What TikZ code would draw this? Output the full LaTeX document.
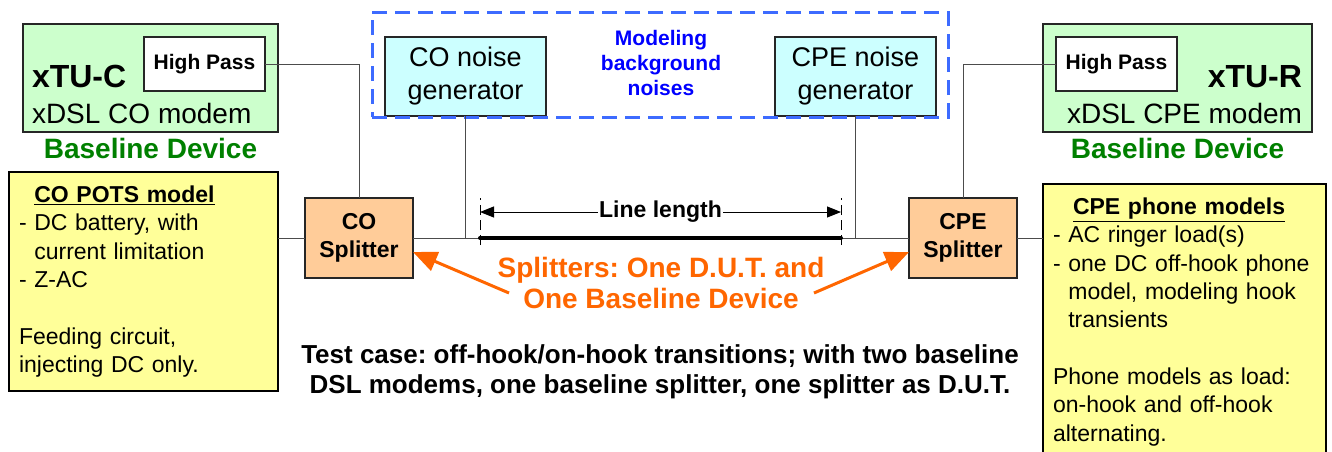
\documentclass[tikz,border=0pt]{standalone}
\usepackage{fontspec}
\setmainfont{Liberation Sans}
\usetikzlibrary{positioning,arrows.meta}
\definecolor{modemgreen}{HTML}{CCFFCC}
\definecolor{potsyellow}{HTML}{FFFF99}
\definecolor{splitorange}{HTML}{FFCC99}
\definecolor{noisecyan}{HTML}{CCFFFF}
\definecolor{dashblue}{HTML}{3D6BFF}
\definecolor{textgreen}{HTML}{008000}
\definecolor{textblue}{HTML}{0000FF}
\definecolor{dutorange}{HTML}{FF6600}
\newcommand{\fs}[2]{\fontsize{#1}{#2}\selectfont}
\newcommand{\hangind}{\hphantom{-~}}
\frenchspacing

\begin{document}
\begin{tikzpicture}[x=1pt, y=-1pt, thick,
    box/.style={draw=black!85, line width=1.5pt, inner sep=0pt, outer sep=0pt, anchor=north west},
    boxsize/.style 2 args={minimum width=#1pt, minimum height=#2pt},
    notes/.style={box, draw=black, line width=2pt, fill=potsyellow, align=left,
        inner xsep=10pt, inner ysep=14pt, font=\fs{23}{28.3}},
    label/.style={inner sep=0pt, outer sep=0pt},
    wire/.style={draw=black!70, line width=1pt},
    pointer/.style={draw=dutorange, line width=3pt, -{Triangle[length=24pt,width=20pt]}}]
    \useasboundingbox (0,0) rectangle (1332,451);

    \node[box, fill=modemgreen, boxsize={255}{108}] (tuC) at (23,24) {};
    \node[box, fill=white, boxsize={121}{54}, font=\fs{21}{25}\bfseries] (hpC) at (144,37) {High Pass};
    \node[label, anchor=base west, font=\fs{32}{38}\bfseries] (tuCname) at (32,87) {xTU-C};
    \node[label, anchor=base west, font=\fs{28}{33}] (tuCtype) at (32,123) {xDSL CO modem};
    \node[label, below=6pt of tuC, text=textgreen, font=\fs{28}{33}\bfseries] (baseC) {Baseline Device};

    \node[box, fill=modemgreen, boxsize={269}{108}] (tuR) at (1043,24) {};
    \node[box, fill=white, boxsize={121}{54}, font=\fs{21}{25}\bfseries] (hpR) at (1056,37) {High Pass};
    \node[label, anchor=base east, font=\fs{32}{38}\bfseries] (tuRname) at (1302,87) {xTU-R};
    \node[label, anchor=base east, font=\fs{28}{33}] (tuRtype) at (1302,123) {xDSL CPE modem};
    \node[label, below=6pt of tuR, text=textgreen, font=\fs{28}{33}\bfseries] (baseR) {Baseline Device};

    \node[box, fill=noisecyan, boxsize={161}{79}, align=center, font=\fs{27}{33}] (noiseC) at (385,37) {CO noise\\generator};
    \node[box, fill=noisecyan, boxsize={161}{79}, align=center, font=\fs{27}{33}] (noiseR) at (775,37) {CPE noise\\generator};
    \node[box, draw=dashblue, line width=3pt, dash pattern=on 15pt off 8pt, boxsize={576}{105}] (noisegrp) at (372,12) {};
    \node[label, anchor=north, align=center, text=textblue, font=\fs{21}{25}\bfseries] (noiselbl) at (661,30) {Modeling\\background\\noises};

    \node[box, fill=splitorange, boxsize={108}{80}, align=center, font=\fs{23}{28}\bfseries] (coS) at (305,198) {CO\\Splitter};
    \node[box, fill=splitorange, boxsize={108}{80}, align=center, font=\fs{23}{28}\bfseries] (cpeS) at (909,198) {CPE\\Splitter};

    \node[notes, text width=249pt] (potsC) at (9,172) {\hangind\textbf{\underline{CO POTS model}}\\
        - DC battery, with\\ \hangind current limitation\\ - Z-AC\\[28.3pt]
        Feeding circuit,\\ injecting DC only.};
    \node[notes, text width=263pt] (phoneR) at (1043,184) {\hspace*{20pt}\textbf{\underline{CPE phone models}}\\
        - AC ringer load(s)\\ - one DC off-hook phone\\ \hangind model, modeling hook\\ \hangind transients\\[28.3pt]
        Phone models as load:\\ on-hook and off-hook\\ alternating.};

    \draw[wire] (hpC.east) -| (coS.north);
    \draw[wire] (hpR.west) -| (cpeS.north);
    \draw[wire] (potsC.east |- coS.west) -- (coS.west);
    \draw[wire] (coS.east) -- (cpeS.west);
    \draw[wire] (cpeS.east) -- (phoneR.west |- cpeS.east);
    \draw[wire] (noiseC.south) -- (noiseC.south |- coS.east);
    \draw[wire] (noiseR.south) -- (noiseR.south |- cpeS.west);

    \coordinate (lenL) at (480,238);
    \coordinate (lenR) at (841,238);
    \draw[line width=4pt, line cap=round] (lenL) -- (lenR);
    \draw[line width=1pt, dash pattern=on 10pt off 5pt] (lenL) ++(0,7) -- ++(0,-47);
    \draw[line width=1pt, dash pattern=on 10pt off 5pt] (lenR) ++(0,7) -- ++(0,-47);
    \draw[line width=1pt, {Triangle[length=14pt,width=11pt]}-{Triangle[length=14pt,width=11pt]}]
        ([yshift=26pt]lenL) -- ([yshift=26pt]lenR)
        node[midway, fill=white, inner sep=1pt, font=\fs{23}{28}\bfseries] (lenlbl) {Line length};

    \node[label, anchor=north, align=center, text=dutorange, font=\fs{28}{31}\bfseries] (dutlbl) at (661,257)
        {Splitters: One D.U.T. and\\One Baseline Device};
    \coordinate (tailL) at (509,293);
    \coordinate (tailR) at (814,293);
    \draw[pointer] (tailL) -- ([yshift=-14pt]coS.east);
    \draw[pointer] (tailR) -- ([yshift=-14pt]cpeS.west);

    \node[label, anchor=north, align=center, font=\fs{26}{30}\bfseries] (testlbl) at (660,345)
        {Test case: off-hook/on-hook transitions; with two baseline\\DSL modems, one baseline splitter, one splitter as D.U.T.};
\end{tikzpicture}
\end{document}
